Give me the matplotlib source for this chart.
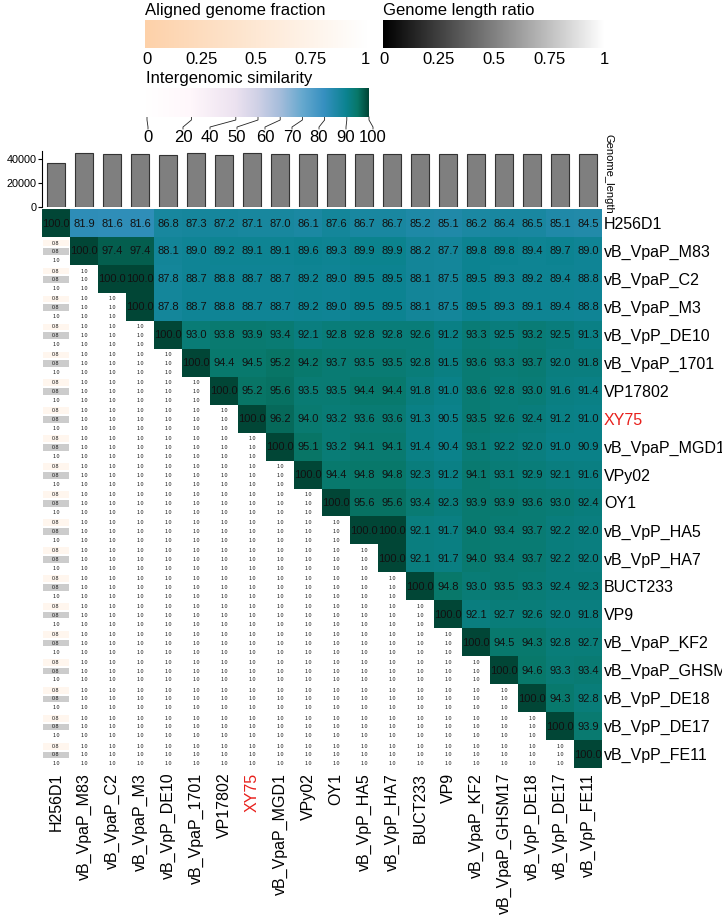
import numpy as np
import matplotlib
matplotlib.use('Agg')
import matplotlib.pyplot as plt
from matplotlib.colors import LinearSegmentedColormap, Normalize
from matplotlib.patches import Rectangle

plt.rcParams['font.family'] = ['Liberation Sans', 'DejaVu Sans']

W, H = 722, 915

names = ['H256D1', 'vB_VpaP_M83', 'vB_VpaP_C2', 'vB_VpaP_M3', 'vB_VpP_DE10',
         'vB_VpaP_1701', 'VP17802', 'XY75', 'vB_VpaP_MGD1', 'VPy02', 'OY1',
         'vB_VpP_HA5', 'vB_VpP_HA7', 'BUCT233', 'VP9', 'vB_VpaP_KF2',
         'vB_VpaP_GHSM17', 'vB_VpP_DE18', 'vB_VpP_DE17', 'vB_VpP_FE11']

genome_length = [36100, 44400, 43700, 43700, 43100, 44400, 43100, 44700, 43700, 43700,
                 43900, 43400, 43400, 43400, 43900, 43900, 43400, 43400, 43700, 43700]

# intergenomic similarity, row i starting at column i
sim_upper = [
    [100.0, 81.9, 81.6, 81.6, 86.8, 87.3, 87.2, 87.1, 87.0, 86.1, 87.6, 86.7, 86.7, 85.2, 85.1, 86.2, 86.4, 86.5, 85.1, 84.5],
    [100.0, 97.4, 97.4, 88.1, 89.0, 89.2, 89.1, 89.1, 89.6, 89.3, 89.9, 89.9, 88.2, 87.7, 89.8, 89.8, 89.4, 89.7, 89.0],
    [100.0, 100.0, 87.8, 88.7, 88.8, 88.7, 88.7, 89.2, 89.0, 89.5, 89.5, 88.1, 87.5, 89.5, 89.3, 89.2, 89.4, 88.8],
    [100.0, 87.8, 88.7, 88.8, 88.7, 88.7, 89.2, 89.0, 89.5, 89.5, 88.1, 87.5, 89.5, 89.3, 89.1, 89.4, 88.8],
    [100.0, 93.0, 93.8, 93.9, 93.4, 92.1, 92.8, 92.8, 92.8, 92.6, 91.2, 93.3, 92.5, 93.2, 92.5, 91.3],
    [100.0, 94.4, 94.5, 95.2, 94.2, 93.7, 93.5, 93.5, 92.8, 91.5, 93.6, 93.3, 93.7, 92.0, 91.8],
    [100.0, 95.2, 95.6, 93.5, 93.5, 94.4, 94.4, 91.8, 91.0, 93.6, 92.8, 93.0, 91.6, 91.4],
    [100.0, 96.2, 94.0, 93.2, 93.6, 93.6, 91.3, 90.5, 93.5, 92.6, 92.4, 91.2, 91.0],
    [100.0, 95.1, 93.2, 94.1, 94.1, 91.4, 90.4, 93.1, 92.2, 92.0, 91.0, 90.9],
    [100.0, 94.4, 94.8, 94.8, 92.3, 91.2, 94.1, 93.1, 92.9, 92.1, 91.6],
    [100.0, 95.6, 95.6, 93.4, 92.3, 93.9, 93.9, 93.6, 93.0, 92.4],
    [100.0, 100.0, 92.1, 91.7, 94.0, 93.4, 93.7, 92.2, 92.0],
    [100.0, 92.1, 91.7, 94.0, 93.4, 93.7, 92.2, 92.0],
    [100.0, 94.8, 93.0, 93.5, 93.3, 92.4, 92.3],
    [100.0, 92.1, 92.7, 92.6, 92.0, 91.8],
    [100.0, 94.5, 94.3, 92.8, 92.7],
    [100.0, 94.6, 93.3, 93.4],
    [100.0, 94.3, 92.8],
    [100.0, 93.9],
    [100.0],
]

# lower triangle, same down each column: aligned fraction (row genome),
# genome length ratio, aligned fraction (column genome)
frac_row_by_col = [0.8, 1.0, 1.0, 1.0, 1.0, 1.0, 1.0, 1.0, 1.0, 1.0,
                   1.0, 1.0, 1.0, 1.0, 1.0, 1.0, 1.0, 1.0, 1.0]
ratio_by_col = [0.8, 1.0, 1.0, 1.0, 1.0, 1.0, 1.0, 1.0, 1.0, 1.0,
                1.0, 1.0, 1.0, 1.0, 1.0, 1.0, 1.0, 1.0, 1.0]
frac_col_by_col = [1.0, 1.0, 1.0, 1.0, 1.0, 1.0, 1.0, 1.0, 1.0, 1.0,
                   1.0, 1.0, 1.0, 1.0, 1.0, 1.0, 1.0, 1.0, 1.0]

sim_breaks = [0, 20, 40, 50, 60, 70, 80, 90, 100]
# colour stops (value, colour); 95 added to follow the picture's teal tones
sim_stops = [(0, '#ffffff'), (20, '#fff7fb'), (40, '#ece2f0'), (50, '#d0d1e6'),
             (60, '#a6bddb'), (70, '#67a9cf'), (80, '#3690c0'), (90, '#0b8390'),
             (95, '#087869'), (100, '#014636')]
sim_cmap = LinearSegmentedColormap.from_list('sim', [(v / 100, c) for v, c in sim_stops])
frac_cmap = LinearSegmentedColormap.from_list('frac', ['#fdd1a9', '#ffffff'])
ratio_cmap = LinearSegmentedColormap.from_list('ratio', ['#000000', '#ffffff'])


def box(x0, y0, x1, y1):
    return [x0 / W, 1 - y1 / H, (x1 - x0) / W, (y1 - y0) / H]


fig = plt.figure(figsize=(W / 100, H / 100), dpi=100)

# overlay for legend texts and connector lines
ov = fig.add_axes([0, 0, 1, 1])
ov.set_xlim(0, W)
ov.set_ylim(H, 0)
ov.axis('off')

n = len(names)

# heatmap
ax = fig.add_axes(box(42, 209, 602, 768))
mat = np.full((n, n), np.nan)
for i, row in enumerate(sim_upper):
    for k, v in enumerate(row):
        mat[i, i + k] = v
ax.pcolormesh(np.arange(n + 1), np.arange(n + 1), np.ma.masked_invalid(mat),
              cmap=sim_cmap, norm=Normalize(0, 100))
for i, row in enumerate(sim_upper):
    for k, v in enumerate(row):
        ax.text(i + k + 0.5, i + 0.52, f'{v:.1f}', ha='center', va='center',
                fontsize=8, color='#111111')

sub_y = [0.22, 0.53, 0.85]
for i in range(n):
    for j in range(i):
        vals = [frac_row_by_col[j], ratio_by_col[j], frac_col_by_col[j]]
        cols = [frac_cmap(vals[0]), ratio_cmap(vals[1]), frac_cmap(vals[2])]
        for yc, v, c in zip(sub_y, vals, cols):
            ax.add_patch(Rectangle((j + 0.03, i + yc - 0.12), 0.94, 0.24,
                                   facecolor=c, edgecolor='none'))
            ax.text(j + 0.5, i + yc, f'{v:.1f}', ha='center', va='center',
                    fontsize=3.8, color='#111111')

ax.set_xlim(0, n)
ax.set_ylim(n, 0)
ax.set_xticks(np.arange(n) + 0.5)
ax.set_xticklabels(names, rotation=90, fontsize=11.5)
ax.yaxis.tick_right()
ax.set_yticks(np.arange(n) + 0.5)
ax.set_yticklabels(names, fontsize=11.5)
ax.tick_params(axis='x', length=0, pad=3.5)
ax.tick_params(axis='y', length=0, pad=1.5)
for lbl in ax.get_xticklabels() + ax.get_yticklabels():
    if lbl.get_text() == 'XY75':
        lbl.set_color('#e8201c')
for s in ax.spines.values():
    s.set_visible(False)

# genome length bars
bx = fig.add_axes(box(42, 151, 602, 206.7))
bx.bar(np.arange(n) + 0.5, genome_length, width=0.62, color='#7f7f7f',
       edgecolor='#333333', linewidth=0.8)
bx.set_xlim(0, n)
bx.set_ylim(0, 46300)
bx.set_xticks([])
bx.set_yticks([0, 20000, 40000])
bx.set_yticklabels(['0', '20000', '40000'], fontsize=7.8)
bx.tick_params(axis='y', length=3, pad=1, width=0.8)
for s in ['top', 'right', 'bottom']:
    bx.spines[s].set_visible(False)
bx.spines['left'].set_linewidth(0.8)
bx.patch.set_alpha(0)
fig.text(609 / W, 1 - 174 / H, 'Genome_length', rotation=270, fontsize=8,
         ha='center', va='center')

# legends
grad = np.linspace(0, 1, 256).reshape(1, -1)


def legend_bar(x0, y0, x1, y1, cmap, title, tick_fracs):
    lax = fig.add_axes(box(x0, y0, x1, y1))
    lax.imshow(grad, aspect='auto', cmap=cmap, extent=(0, 1, 0, 1))
    lax.axis('off')
    ov.text(x0, y0 - 5, title, fontsize=12, ha='left', va='baseline')
    for f in tick_fracs:
        x = x0 + f * (x1 - x0)
        ov.plot([x, x], [y0, y0 + 3], color='white', lw=0.8)
        ov.plot([x, x], [y1 - 3, y1], color='white', lw=0.8)
    return lax


fr_ticks = [0, 0.25, 0.5, 0.75, 1]
fr_labels = ['0', '0.25', '0.5', '0.75', '1']
legend_bar(145, 20, 366, 48, frac_cmap, 'Aligned genome fraction', fr_ticks[1:-1])
for t, l in zip(fr_ticks, fr_labels):
    ov.text(147 + t * 218, 64, l, fontsize=12, ha='center', va='baseline')

legend_bar(383, 20, 604, 48, ratio_cmap, 'Genome length ratio', fr_ticks[1:-1])
for t, l in zip(fr_ticks, fr_labels):
    ov.text(384 + t * 220, 63.5, l, fontsize=12, ha='center', va='baseline')

sim_labels = [str(b) for b in sim_breaks]
legend_bar(146, 88, 369, 117, sim_cmap, 'Intergenomic similarity',
           [b / 100 for b in sim_breaks])
label_x = [148, 183, 210, 237, 265, 292, 319, 346, 373]
for b, l, lx in zip(sim_breaks, sim_labels, label_x):
    tx = 147 + b / 100 * 222
    ov.plot([tx, tx, lx, lx], [117, 120, 127, 129], color='#222222', lw=0.6)
    ov.text(lx, 141.5, l, fontsize=12, ha='center', va='baseline')

fig.savefig('out.png', dpi=100)
